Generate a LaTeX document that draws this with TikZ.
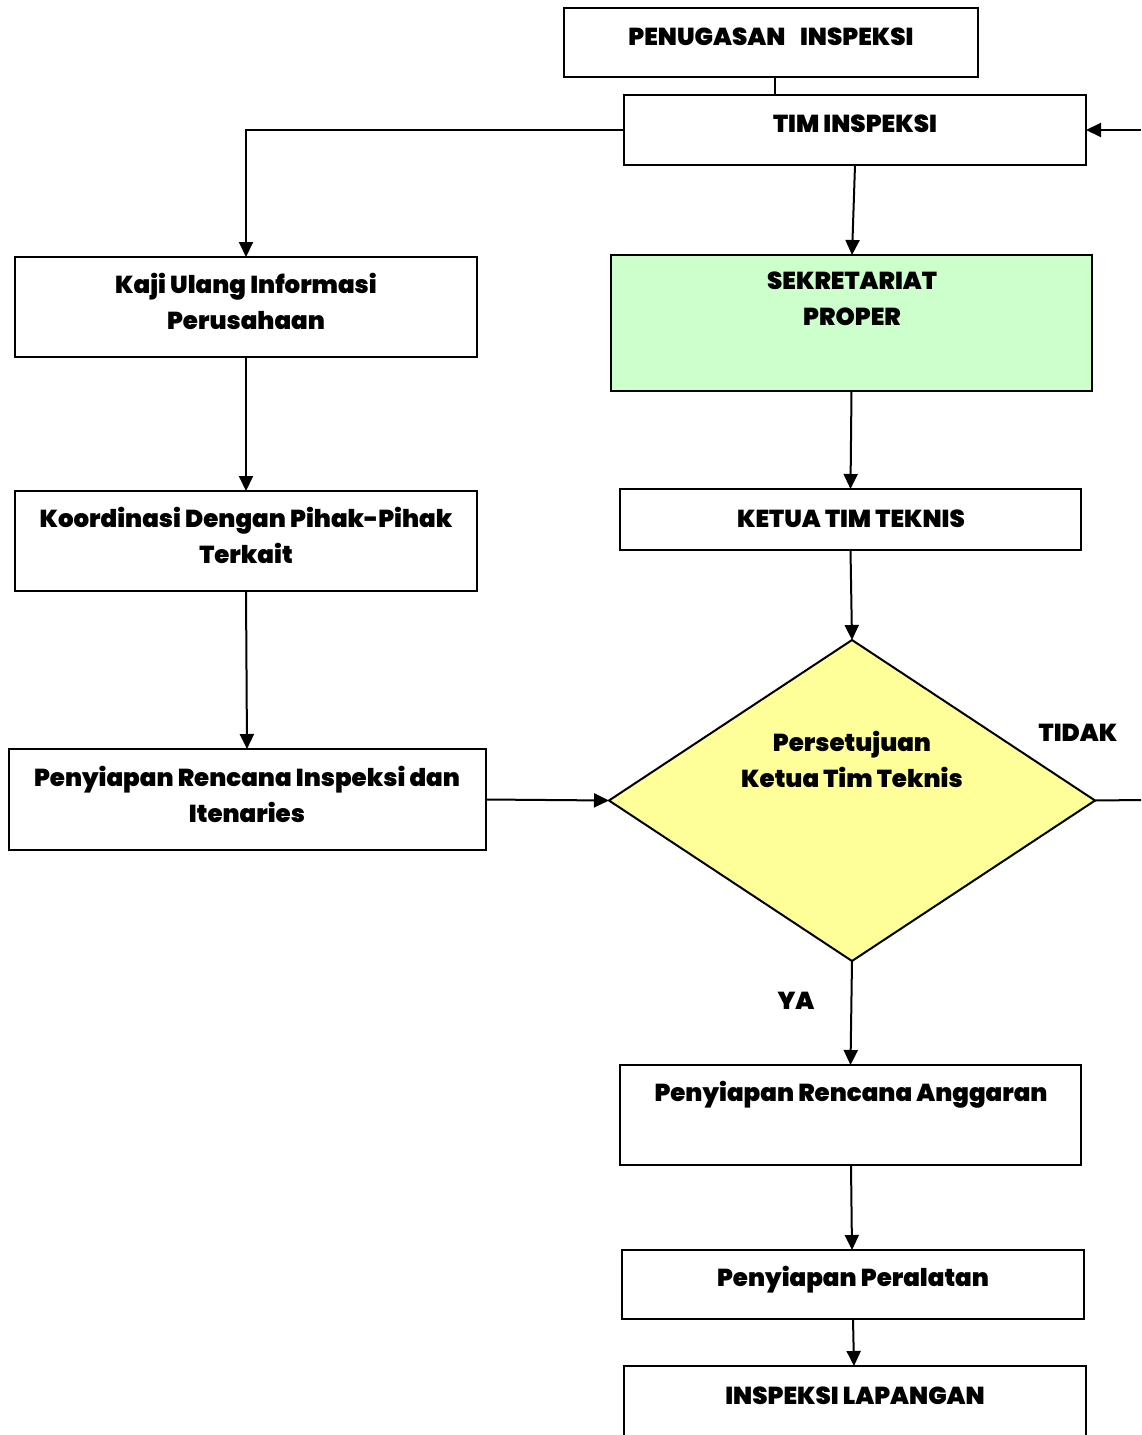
\documentclass[tikz,border=0pt]{standalone}
\usepackage{fontspec}
\setmainfont{Poppins}[BoldFont={Poppins Black}]
\usetikzlibrary{arrows.meta,shapes.geometric}
\definecolor{procgreen}{HTML}{CCFFCC}
\definecolor{decyellow}{HTML}{FFFF99}
\begin{document}
\begin{tikzpicture}[x=1pt,y=-1pt,
  box/.style={draw,line width=2pt,inner sep=0pt,outer sep=0pt,fill=white},
  txt/.style={font=\fontsize{24.5}{36}\selectfont\bfseries,align=center,inner sep=0pt},
  flow/.style={line width=2pt,-{Triangle[length=15pt,width=14pt]}},
  plain/.style={line width=2pt}]
\useasboundingbox (0,0) rectangle (1141,1435);

% boxes
\node[box,minimum width=414pt,minimum height=69pt] (pen) at (771,42.5) {};
\node[box,minimum width=462pt,minimum height=70pt] (tim) at (855,130) {};
\node[box,fill=procgreen,minimum width=481pt,minimum height=136pt] (sek) at (851.5,323) {};
\node[box,minimum width=461pt,minimum height=61pt] (ket) at (850.5,519.5) {};
\node[draw,line width=2pt,fill=decyellow,diamond,inner sep=0pt,outer sep=0pt,
      minimum width=486pt,minimum height=321pt] (dec) at (852,800.5) {};
\node[box,minimum width=461pt,minimum height=100pt] (ang) at (850.5,1115) {};
\node[box,minimum width=462pt,minimum height=69pt] (alat) at (853,1284.5) {};
\node[box,minimum width=462pt,minimum height=110pt] (lap) at (855,1421) {};
\node[box,minimum width=462pt,minimum height=100pt] (kaji) at (246,307) {};
\node[box,minimum width=462pt,minimum height=100pt] (koor) at (246,541) {};
\node[box,minimum width=477pt,minimum height=101pt] (renc) at (247.5,799.5) {};

% texts
\node[txt] (t-pen) at (771,37) {PENUGASAN\hspace{0.6em}INSPEKSI};
\node[txt] (t-tim) at (855,124) {TIM INSPEKSI};
\node[txt] (t-sek) at (852,299) {SEKRETARIAT\\PROPER};
\node[txt] (t-ket) at (851,519) {KETUA TIM TEKNIS};
\node[txt] (t-dec) at (852,759) {Persetujuan\\Ketua Tim Teknis};
\node[txt] (t-ang) at (851,1095) {Penyiapan Rencana Anggaran};
\node[txt] (t-alat) at (853,1280) {Penyiapan Peralatan};
\node[txt] (t-lap) at (855,1396) {INSPEKSI LAPANGAN};
\node[txt] (t-kaji) at (246,301.5) {Kaji Ulang Informasi\\Perusahaan};
\node[txt] (t-koor) at (246,535.5) {Koordinasi Dengan Pihak-Pihak\\Terkait};
\node[txt] (t-renc) at (247,794) {Penyiapan Rencana Inspeksi dan\\Itenaries};
\node[txt] (t-tidak) at (1078,733) {TIDAK};
\node[txt] (t-ya) at (796,1001) {YA};

% free ends at the right margin
\coordinate (in-right) at (1141,130);
\coordinate (out-right) at (1141,800);

% connectors
\draw[plain] (775,77) -- (775,95);
\draw[flow] (tim.west) -| (kaji.north);
\draw[flow] (in-right) -- (tim.east);
\draw[flow] (855,165) -- (852,255);
\draw[flow] (sek.south) -- (ket.north);
\draw[flow] (ket.south) -- (dec.north);
\draw[plain] (dec.east) -- (out-right);
\draw[flow] (dec.south) -- (ang.north);
\draw[flow] (851,1165) -- (852,1250);
\draw[flow] (853,1319) -- (854,1366);
\draw[flow] (kaji.south) -- (koor.north);
\draw[flow] (246,591) -- (247,749);
\draw[flow] (renc.east) -- (dec.west);
\end{tikzpicture}
\end{document}
